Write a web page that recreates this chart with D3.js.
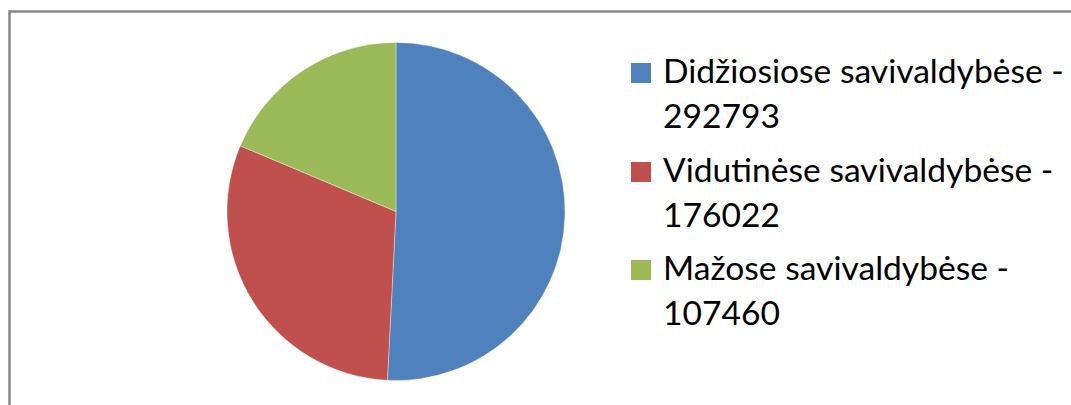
<!DOCTYPE html>
<html>
<head>
<meta charset="UTF-8">
<script src="https://d3js.org/d3.v7.min.js"></script>
<style>
  body { margin: 0; background: #fff; }
  svg text { font-family: Lato, "Open Sans", sans-serif; fill: #000; }
</style>
</head>
<body>
<div id="chart"></div>
<script>
const labels = ['Didžiosiose savivaldybėse', 'Vidutinėse savivaldybėse', 'Mažose savivaldybėse'];
const values = [292793, 176022, 107460];
const colors = ['#4F81BD', '#C0504D', '#9BBB59'];

const width = 1071, height = 405;
const svg = d3.select('#chart').append('svg')
  .attr('width', width)
  .attr('height', height);

// frame (only top and left edges fall inside the picture)
svg.append('path')
  .attr('d', `M9.5,${height} V11.5 H${width}`)
  .attr('fill', 'none')
  .attr('stroke', '#868686')
  .attr('stroke-width', 2.5);

const cx = 396, cy = 211.5, r = 169;
const pie = d3.pie().sort(null).value(d => d);
const arc = d3.arc().innerRadius(0).outerRadius(r);

svg.append('g')
  .attr('transform', `translate(${cx},${cy})`)
  .selectAll('path')
  .data(pie(values))
  .join('path')
  .attr('d', arc)
  .attr('fill', (d, i) => colors[i])
  .attr('stroke', '#fff')
  .attr('stroke-width', 0.6)
  .attr('stroke-opacity', 0.6);

// legend
const legend = svg.append('g');
const itemTop = [63, 162, 260];
const lineGap = 45;

// pick a font size so the first line has the same width as in the picture
const probe = legend.append('text').attr('font-size', 30).text(labels[0] + ' -');
const fontSize = 30 * 401 / probe.node().getComputedTextLength();
probe.remove();

labels.forEach((label, i) => {
  const g = legend.append('g').attr('transform', `translate(0,${itemTop[i]})`);
  g.append('rect')
    .attr('x', 631).attr('y', 0)
    .attr('width', 20).attr('height', 20)
    .attr('fill', colors[i]);
  g.append('text')
    .attr('x', 663).attr('y', 20)
    .attr('font-size', fontSize)
    .text(label + ' -');
  g.append('text')
    .attr('x', 663).attr('y', 20 + lineGap)
    .attr('font-size', fontSize)
    .text(values[i]);
});
</script>
</body>
</html>
